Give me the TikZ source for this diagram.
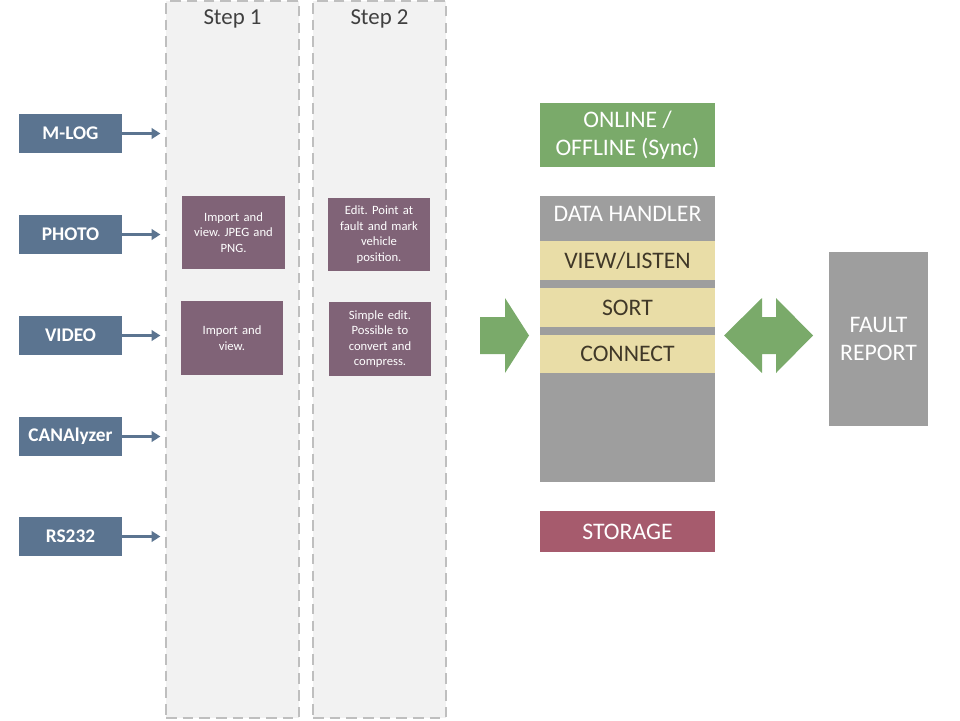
\documentclass[tikz,border=0pt]{standalone}
\usepackage{fontspec}
\setmainfont{Carlito}
\frenchspacing
\usetikzlibrary{arrows.meta}

\definecolor{srcblue}{RGB}{91,116,144}
\definecolor{colgray}{RGB}{242,242,242}
\definecolor{dashgray}{RGB}{191,191,191}
\definecolor{notepurple}{RGB}{128,99,119}
\definecolor{okgreen}{RGB}{122,170,106}
\definecolor{handlergray}{RGB}{158,158,158}
\definecolor{baryellow}{RGB}{233,221,167}
\definecolor{bartext}{RGB}{64,56,40}
\definecolor{storered}{RGB}{166,91,109}

\begin{document}
\begin{tikzpicture}[x=0.02cm, y=-0.02cm,
  srcbox/.style={fill=srcblue, text=white, font=\fontsize{11}{13}\selectfont\bfseries,
    minimum width=2.06cm, minimum height=0.78cm, inner sep=0pt},
  srcarrow/.style={draw=srcblue, line width=1.4pt, -{Triangle[length=5pt,width=6pt]}, shorten >=2.5pt},
  stepcol/.style={fill=colgray, draw=dashgray, line width=1.4pt, dash pattern=on 6pt off 3.5pt,
    minimum width=2.66cm, minimum height=14.34cm, inner sep=0pt},
  steptitle/.style={text=black!75, font=\fontsize{13}{15}\selectfont},
  notebox/.style={fill=notepurple, text=white, align=center, text width=2.06cm,
    font=\fontsize{7.2}{8.8}\selectfont, inner sep=0pt},
  bigbox/.style={text=white, align=center, inner sep=0pt, minimum width=3.5cm,
    font=\fontsize{13.5}{16}\selectfont},
  barbox/.style={fill=baryellow, text=bartext, inner sep=0pt, minimum width=3.5cm,
    font=\fontsize{13.5}{16}\selectfont},
  blockarrow/.style={fill=okgreen}]

\useasboundingbox (0,0) rectangle (960,720);

% step columns
\node[stepcol] (stepA) at (232.5,359.5) {};
\node[stepcol] (stepB) at (379.5,359.5) {};
\node[steptitle] (stepAtitle) at (232.5,19) {Step 1};
\node[steptitle] (stepBtitle) at (379.5,19) {Step 2};

% sources
\node[srcbox] (mlog) at (70.5,133.5) {M-LOG};
\node[srcbox] (photo) at (70.5,234.5) {PHOTO};
\node[srcbox] (video) at (70.5,335.5) {VIDEO};
\node[srcbox] (canalyzer) at (70.5,436.5) {CANAlyzer};
\node[srcbox] (rs232) at (70.5,536.5) {RS232};
\foreach \s in {mlog,photo,video,canalyzer,rs232}
  \draw[srcarrow] (\s.east) -- (\s.east -| stepA.west);

% notes in the steps
\node[notebox, minimum height=1.46cm] (importA) at (233.5,232.5) {Import and\\view. JPEG and\\PNG.};
\node[notebox, minimum height=1.48cm] (importB) at (232,338) {Import and\\view.};
\node[notebox, minimum height=1.46cm] (editA) at (379,234.5) {Edit. Point at\\fault and mark\\vehicle\\position.};
\node[notebox, minimum height=1.48cm] (editB) at (380,339) {Simple edit.\\Possible to\\convert and\\compress.};

% right side
\node[bigbox, fill=okgreen, minimum height=1.28cm] (online) at (627.5,135) {ONLINE /\\OFFLINE (Sync)};
\node[fill=handlergray, minimum width=3.5cm, minimum height=5.72cm, inner sep=0pt] (handler) at (627.5,339) {};
\node[text=white, font=\fontsize{13.5}{16}\selectfont] (handlertitle) at (627.5,214) {DATA HANDLER};
\node[barbox, minimum height=0.78cm] (viewbar) at (627.5,260.5) {VIEW/LISTEN};
\node[barbox, minimum height=0.78cm] (sortbar) at (627.5,307.5) {SORT};
\node[barbox, minimum height=0.76cm] (connectbar) at (627.5,354) {CONNECT};
\node[bigbox, fill=storered, minimum height=0.82cm] (storage) at (627.5,531.5) {STORAGE};
\node[bigbox, fill=handlergray, minimum width=1.98cm, minimum height=3.48cm] (fault) at (878.5,339) {FAULT\\REPORT};

% block arrows
\fill[blockarrow] (480,317) -- (505,317) -- (505,298) -- (529,335.5) -- (505,373) -- (505,354) -- (480,354) -- cycle;
\fill[blockarrow] (724,335.5) -- (762,298) -- (762,317) -- (776,317) -- (776,298) -- (813,335.5)
  -- (776,373) -- (776,354) -- (762,354) -- (762,373) -- cycle;
\end{tikzpicture}
\end{document}
